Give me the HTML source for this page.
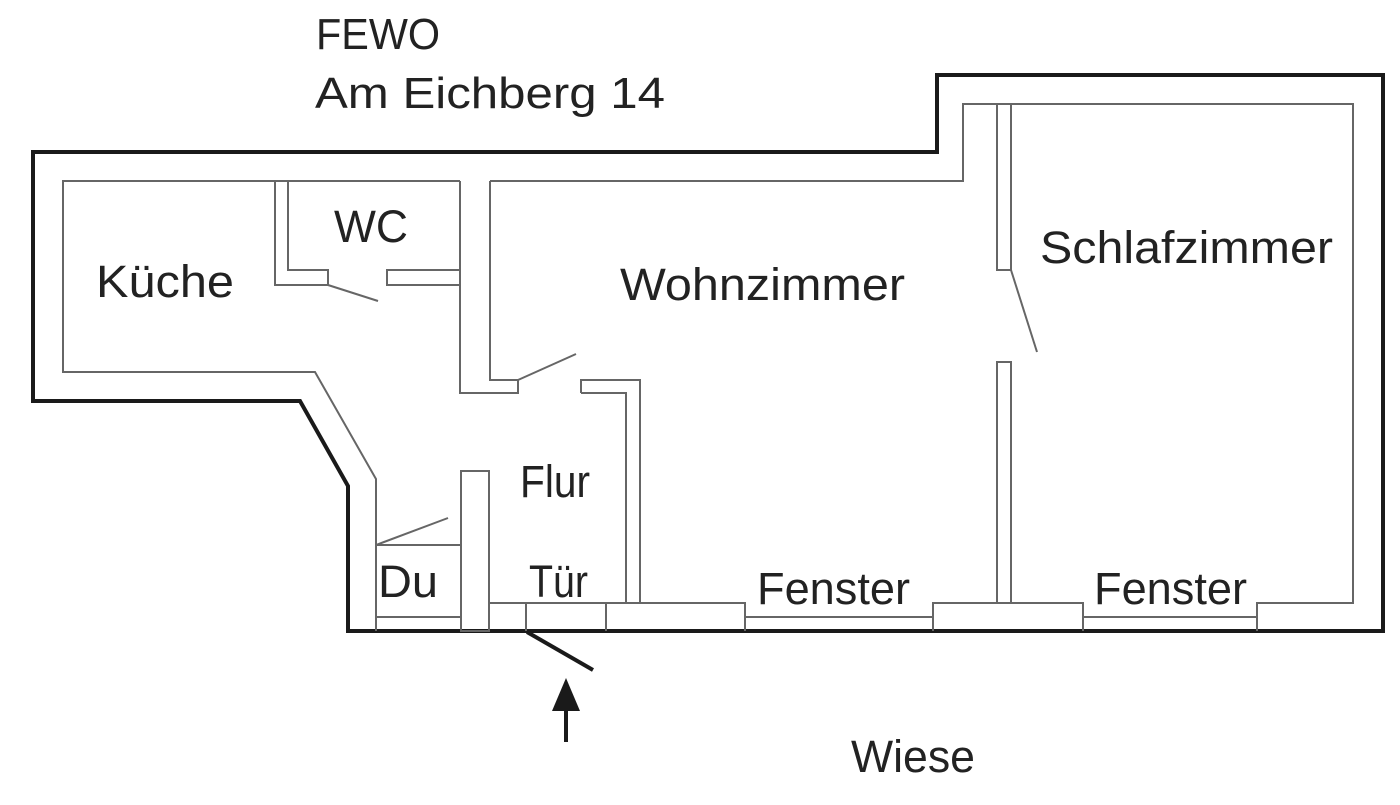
<!DOCTYPE html>
<html><head><meta charset="utf-8"><style>
html,body{margin:0;padding:0;background:#fff;}
svg{display:block;}
text{font-family:"Liberation Sans",sans-serif;fill:#222;}
</style></head><body>
<svg width="1400" height="805" viewBox="0 0 1400 805" xmlns="http://www.w3.org/2000/svg">
<rect width="1400" height="805" fill="#fff"/>
<!-- outer wall -->
<path d="M33,152 L937,152 L937,75 L1383,75 L1383,631 L348,631 L348,486 L300,401 L33,401 Z" fill="none" stroke="#1a1a1a" stroke-width="4"/>
<g fill="none" stroke="#666" stroke-width="2">
<!-- kitchen -->
<path d="M460,181 L63,181 L63,372 L315,372 L376,479 L376,631"/>
<!-- WC -->
<path d="M275,181 L275,285 L328,285 L328,270 L288,270 L288,181"/>
<path d="M328,285 L378,301"/>
<path d="M460,270 L387,270 L387,285 L460,285"/>
<path d="M460,181 L460,393 L518,393 L518,380 L490,380 L490,181"/>
<path d="M518,380 L576,354"/>
<!-- Wohnzimmer / Schlaf -->
<path d="M490,181 L963,181 L963,104 L1353,104 L1353,603 L1257,603 L1257,631"/>
<path d="M581,393 L581,380 L640,380 L640,603 M626,603 L626,393 L581,393"/>
<rect x="997" y="104" width="14" height="166"/>
<path d="M1011,270 L1037,352"/>
<rect x="997" y="362" width="14" height="241"/>
<!-- Du -->
<rect x="461" y="471" width="28" height="160"/>
<path d="M376,545 L461,545 M376,545 L448,518 M376,617 L461,617"/>
<!-- bottom -->
<path d="M489,603 L745,603 L745,631 M526,603 L526,631 M606,603 L606,631 M489,603 L489,631"/>
<path d="M745,617 L933,617"/>
<path d="M933,631 L933,603 L1083,603 L1083,631"/>
<path d="M1083,617 L1257,617 L1257,603"/>
</g>
<!-- entrance door & arrow -->
<path d="M527,632 L593,670" stroke="#1a1a1a" stroke-width="4"/>
<path d="M566,742 L566,705" stroke="#1a1a1a" stroke-width="4"/>
<path d="M566,678 L552,711 L580,711 Z" fill="#1a1a1a"/>
<!-- labels -->
<text x="316" y="49" font-size="44" textLength="124" lengthAdjust="spacingAndGlyphs">FEWO</text>
<text x="315" y="108" font-size="44" textLength="350" lengthAdjust="spacingAndGlyphs">Am Eichberg 14</text>
<text x="96" y="297" font-size="45" textLength="138" lengthAdjust="spacingAndGlyphs">Küche</text>
<text x="334" y="242" font-size="45" textLength="74" lengthAdjust="spacingAndGlyphs">WC</text>
<text x="620" y="300" font-size="45" textLength="285" lengthAdjust="spacingAndGlyphs">Wohnzimmer</text>
<text x="1040" y="263" font-size="45" textLength="293" lengthAdjust="spacingAndGlyphs">Schlafzimmer</text>
<text x="520" y="497" font-size="45" textLength="70" lengthAdjust="spacingAndGlyphs">Flur</text>
<text x="378" y="597" font-size="45" textLength="60" lengthAdjust="spacingAndGlyphs">Du</text>
<text x="529" y="597" font-size="45" textLength="59" lengthAdjust="spacingAndGlyphs">Tür</text>
<text x="757" y="604" font-size="45" textLength="153" lengthAdjust="spacingAndGlyphs">Fenster</text>
<text x="1094" y="604" font-size="45" textLength="153" lengthAdjust="spacingAndGlyphs">Fenster</text>
<text x="851" y="772" font-size="45" textLength="124" lengthAdjust="spacingAndGlyphs">Wiese</text>
</svg>
</body></html>
